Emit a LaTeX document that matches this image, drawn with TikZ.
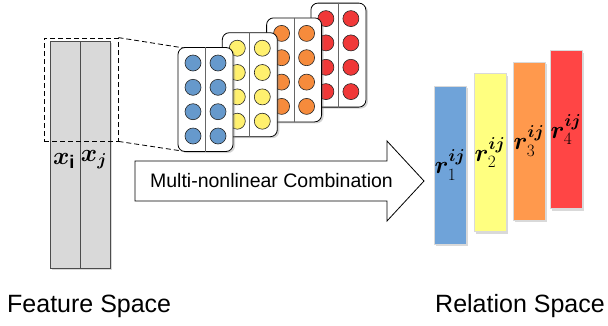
\documentclass[tikz,border=0pt]{standalone}
\usepackage{amsmath,bm}
\usepackage{fontspec}
\setmainfont{Liberation Sans}
\usetikzlibrary{shadows}

\definecolor{featgray}{HTML}{D9D9D9}
\definecolor{barblue}{HTML}{6FA3D9}
\definecolor{baryellow}{HTML}{FFFF80}
\definecolor{barorange}{HTML}{FF994D}
\definecolor{barred}{HTML}{FF4545}
\definecolor{dotblue}{HTML}{6699CC}
\definecolor{dotyellow}{HTML}{FFF06E}
\definecolor{dotorange}{HTML}{F68B3C}
\definecolor{dotred}{HTML}{F03838}

\begin{document}
\begin{tikzpicture}[
  x=1pt, y=-1pt,
  feat/.style={draw=black!70, fill=featgray, line width=0.8pt, minimum width=30pt, minimum height=227pt, inner sep=0pt,
    drop shadow={shadow xshift=1.5pt, shadow yshift=-1.5pt, opacity=0.3}},
  card/.style={draw, fill=white, line width=0.8pt, rounded corners=7pt, minimum width=55pt, minimum height=104pt, inner sep=0pt,
    drop shadow={shadow xshift=2pt, shadow yshift=-1.5pt, opacity=0.35}},
  dot/.style={draw=black!85, line width=0.6pt},
  rel/.style={draw=white!85!black, line width=0.4pt, minimum width=32pt, minimum height=158pt, inner sep=0pt,
    drop shadow={shadow xshift=2pt, shadow yshift=-2pt, opacity=0.3}, font=\fontsize{25}{30}\selectfont},
  win/.style={draw, dash pattern=on 5pt off 3pt, line width=0.8pt},
  combo/.style={draw, line width=0.8pt, fill=white},
  caption/.style={font=\fontsize{25}{30}\selectfont, anchor=base west, inner sep=0pt}
]
\useasboundingbox (0,0) rectangle (608,325);

\node[feat] (xi) at (65,154.5) {};
\node[feat] (xj) at (95,154.5) {};
\node[font=\fontsize{26}{30}\selectfont] (lxi) at (64,161) {$\bm{x}_{\mathbf{i}}$};
\node[font=\fontsize{26}{30}\selectfont] (lxj) at (94,160) {$\bm{x}_{\bm{j}}$};
\node[win, minimum width=74pt, minimum height=103pt, inner sep=0pt] (zoomwin) at (81,89.5) {};

\coordinate (topend) at (184,48);
\coordinate (botend) at (182,151);
\draw[win] (zoomwin.north east) -- (topend);
\draw[win] (zoomwin.south east) -- (botend);

\foreach \k/\col in {3/dotred,2/dotorange,1/dotyellow,0/dotblue}{
  \node[card] (card\k) at ({205.5+44.3*\k},{99.5-14.8*\k}) {};
  \draw[black!60, line width=0.8pt] (card\k.north) -- (card\k.south);
  \foreach \dy in {-36.5,-12.2,12.2,36.5}
    \foreach \dx in {-12.5,12.5}
      \draw[dot, fill=\col] ([shift={(\dx,\dy)}]card\k.center) circle[radius=8pt];
}

\draw[combo] (135,161) -- (387,161) -- (387,141) -- (424,181) -- (387,221) -- (387,201) -- (135,201) -- cycle;
\node[font=\fontsize{19.5}{23}\selectfont] (combotext) at (271.5,181) {Multi-nonlinear Combination};

\node[rel, fill=barblue] (r1) at (450,165) {$\bm{r}_{1}^{\bm{ij}}$};
\node[rel, fill=baryellow] (r2) at (490,152.5) {$\bm{r}_{2}^{\bm{ij}}$};
\node[rel, fill=barorange] (r3) at (529,141) {$\bm{r}_{3}^{\bm{ij}}$};
\node[rel, fill=barred] (r4) at (566,129.5) {$\bm{r}_{4}^{\bm{ij}}$};

\node[caption] (featlabel) at (7,312) {Feature Space};
\node[caption] (rellabel) at (435,312) {Relation Space};

\end{tikzpicture}
\end{document}
